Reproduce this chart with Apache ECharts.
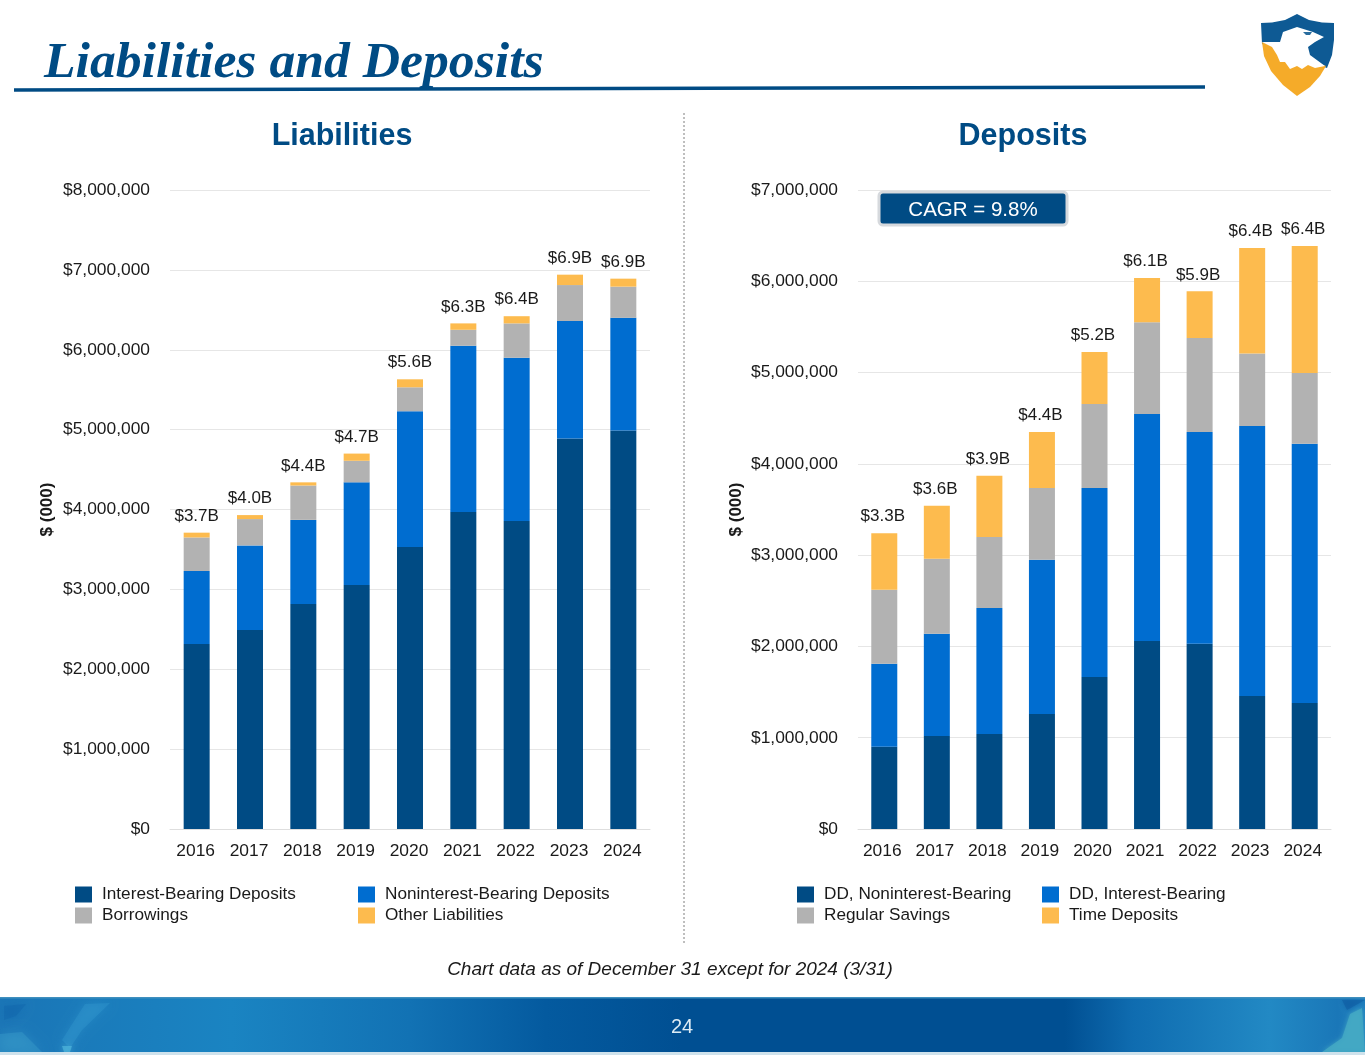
<!DOCTYPE html>
<html><head><meta charset="utf-8">
<style>html,body{margin:0;padding:0;background:#fff}#c{width:1365px;height:1055px}</style>
<script src="https://cdn.jsdelivr.net/npm/echarts@6/dist/echarts.min.js"></script>
</head><body><div id="c"></div>
<script>
const years = ['2016','2017','2018','2019','2020','2021','2022','2023','2024'];
const interestBearing = [2316,2490,2817,3055,3530,3970,3856,4890,4990].map(v=>v*1000);
const nonInterestBearing = [914,1060,1053,1285,1700,2080,2044,1470,1410].map(v=>v*1000);
const borrowings = [420,330,430,270,300,200,430,450,390].map(v=>v*1000);
const otherLiabilities = [60,50,40,90,100,80,90,130,100].map(v=>v*1000);
const liabilityTotals = ['$3.7B','$4.0B','$4.4B','$4.7B','$5.6B','$6.3B','$6.4B','$6.9B','$6.9B'];
const ddNonInterest = [900,1020,1040,1260,1665,2060,2030,1457,1380].map(v=>v*1000);
const ddInterest = [910,1120,1380,1690,2070,2486,2320,2958,2840].map(v=>v*1000);
const regularSavings = [810,820,780,785,920,1004,1030,795,775].map(v=>v*1000);
const timeDeposits = [620,580,670,615,570,485,510,1155,1391].map(v=>v*1000);
const depositTotals = ['$3.3B','$3.6B','$3.9B','$4.4B','$5.2B','$6.1B','$5.9B','$6.4B','$6.4B'];

const NAVY='#004b84', BLUE='#006dd0', GRAY='#b2b2b2', GOLD='#fdbb4e', INK='#1a1a1a';
const FONT='"Liberation Sans", Arial, sans-serif', FS=17.4;
const money = v => '$' + v.toLocaleString('en-US');

function bar(name,data,color,idx,stack,totals,pad){
  const s={name,type:'bar',stack,data,xAxisIndex:idx,yAxisIndex:idx,barWidth:26,itemStyle:{color}};
  if(totals) s.label={show:true,position:'top',distance:8,color:INK,fontFamily:FONT,fontSize:17,padding:pad,
    formatter:p=>totals[p.dataIndex]};
  return s;
}
function xA(i,pad){return {type:'category',gridIndex:i,data:years,axisTick:{show:false},
  axisLine:{lineStyle:{color:'#dedede',width:1}},
  axisLabel:{color:INK,fontFamily:FONT,fontSize:FS,margin:14,interval:0,padding:pad}};}
function yA(i,max,gap){return {type:'value',gridIndex:i,min:0,max,interval:1000000,
  name:'$ (000)',nameLocation:'middle',nameGap:gap,nameRotate:90,
  nameTextStyle:{color:INK,fontFamily:FONT,fontSize:17,fontWeight:'bold'},
  axisLine:{show:false},axisTick:{show:false},
  splitLine:{lineStyle:{color:'#e6e6e6',width:1}},
  axisLabel:{color:INK,fontFamily:FONT,fontSize:FS,margin:20,padding:[3,0,0,0],formatter:money}};}
function lg(left,top,names){return {left,top,orient:'vertical',itemWidth:17,itemHeight:16,itemGap:4,
  icon:'rect',selectedMode:false,data:names,itemStyle:{borderWidth:0},
  textStyle:{color:INK,fontFamily:FONT,fontSize:17.2,padding:[0,0,0,5]}};}
function txt(x,y,text,o){return {type:'text',x,y,silent:true,z:20,style:Object.assign({text,fill:INK,font:FS+'px '+FONT,align:'center',verticalAlign:'middle'},o)};}
function poly(points,fill,opacity,blur){return {type:'polygon',silent:true,z:2,shape:{points},
  style:{fill,opacity,shadowBlur:blur||0,shadowColor:fill}};}

const footer=[
    {type:'rect',silent:true,z:1,shape:{x:0,y:998,width:1365,height:54},
      style:{fill:new echarts.graphic.LinearGradient(0,0,1,0,[
        {offset:0,color:'#1a75b6'},{offset:.17,color:'#1a84c2'},{offset:.3,color:'#1272b4'},
        {offset:.4,color:'#045a9f'},{offset:.5,color:'#004f92'},{offset:.78,color:'#004f92'},
        {offset:.83,color:'#0f6cb0'},{offset:.93,color:'#2289c4'},{offset:.98,color:'#1a77b8'},{offset:1,color:'#1e7fbe'}])}},
    poly([[0,1034],[22,1032],[42,1052],[0,1052]],'#3fa4cf',.35,12),
    poly([[85,1004],[110,1003],[82,1030],[70,1048],[62,1040]],'#37a0d4',.3,10),
    poly([[62,1046],[72,1046],[70,1052],[64,1052]],'#55bde0',.6,6),
    poly([[4,1006],[26,1004],[16,1016],[4,1020]],'#0e62a8',.35,10),
    poly([[1322,1052],[1342,1038],[1350,1014],[1362,1008],[1365,1052]],'#45aac4',.8,5),
    poly([[1342,1000],[1365,1000],[1347,1010]],'#0f5ea3',.6,4),
  {type:'rect',silent:true,z:3,shape:{x:0,y:985,width:1365,height:12},style:{fill:'#fff'}},
  {type:'rect',silent:true,z:3,shape:{x:0,y:997,width:1365,height:1.5},style:{fill:'#3f8fbe'}},
  {type:'rect',silent:true,z:3,shape:{x:0,y:1052,width:1365,height:3},style:{fill:'#cfe2ec'}}
];

const logo=[
  {type:'polygon',silent:true,z:5,shape:{points:[[1261,23],[1272,22.5],[1285,20],[1297,14],[1309,20],[1322,22.5],[1334,23],[1334,40],[1332,55],[1327,68],[1262,44]]},style:{fill:'#0e5a94'}},
  {type:'polygon',silent:true,z:5,shape:{points:[[1262,42],[1326,66],[1320,76],[1310,87],[1297,96],[1283,85],[1271,71],[1264,56]]},style:{fill:'#f5ab29'}},
  {type:'polygon',silent:true,z:6,shape:{points:[[1262,42],[1280,42],[1283,32],[1297,27],[1313,32],[1324,37],[1315,42],[1308,47],[1310,55],[1325,66],[1315,68],[1308,65],[1302,69],[1297,66],[1290,69],[1285,62],[1280,62],[1277,55],[1272,47]]},style:{fill:'#fff'}},
  {type:'polygon',silent:true,z:7,shape:{points:[[1303,32],[1312,32],[1310,35],[1306,35]]},style:{fill:'#2a6d9e'}}
];

const graphic=[].concat(footer,logo,[
  {type:'line',silent:true,z:5,shape:{x1:14,y1:90,x2:1205,y2:87},style:{stroke:'#004b84',lineWidth:3.5}},
  {type:'line',silent:true,z:5,shape:{x1:684,y1:113,x2:684,y2:943},style:{stroke:'#7f7f7f',lineWidth:1,lineDash:[2,2]}},
  {type:'rect',silent:true,z:8,shape:{x:879,y:192,width:188,height:33,r:4},style:{fill:'#004b84',stroke:'#d6d9dd',lineWidth:3}},
  txt(44,64,'Liabilities and Deposits',{font:'italic bold 51.7px "Liberation Serif", serif',fill:'#004b84',align:'left'}),
  txt(342,137,'Liabilities',{font:'bold 30.5px '+FONT,fill:'#004b84'}),
  txt(1023,137,'Deposits',{font:'bold 30.5px '+FONT,fill:'#004b84'}),
  txt(973,210,'CAGR = 9.8%',{font:'20.5px '+FONT,fill:'#fff'}),
  txt(670,970,'Chart data as of December 31 except for 2024 (3/31)',{font:'italic 19px '+FONT}),
  txt(682,1027,'24',{font:'20px '+FONT,fill:'#dcebf4'})
]);

const chart=echarts.init(document.getElementById('c'),null,{renderer:'canvas'});
chart.setOption({
  animation:false,backgroundColor:'#fff',
  grid:[{left:170,top:190,width:480,height:639},{left:858,top:190,width:473,height:639}],
  xAxis:[xA(0,[0,2,0,0]),xA(1,[0,4,0,0])],
  yAxis:[yA(0,8000000,114),yA(1,7000000,113)],
  legend:[
    lg(70,881,['Interest-Bearing Deposits','Borrowings']),
    lg(353,881,['Noninterest-Bearing Deposits','Other Liabilities']),
    lg(792,881,['DD, Noninterest-Bearing','Regular Savings']),
    lg(1037,881,['DD, Interest-Bearing','Time Deposits'])
  ],
  series:[
    bar('Interest-Bearing Deposits',interestBearing,NAVY,0,'l'),
    bar('Noninterest-Bearing Deposits',nonInterestBearing,BLUE,0,'l'),
    bar('Borrowings',borrowings,GRAY,0,'l'),
    bar('Other Liabilities',otherLiabilities,GOLD,0,'l',liabilityTotals,[0,0,0,0]),
    bar('DD, Noninterest-Bearing',ddNonInterest,NAVY,1,'d'),
    bar('DD, Interest-Bearing',ddInterest,BLUE,1,'d'),
    bar('Regular Savings',regularSavings,GRAY,1,'d'),
    bar('Time Deposits',timeDeposits,GOLD,1,'d',depositTotals,[0,3,0,0])
  ],
  graphic
});
</script></body></html>
